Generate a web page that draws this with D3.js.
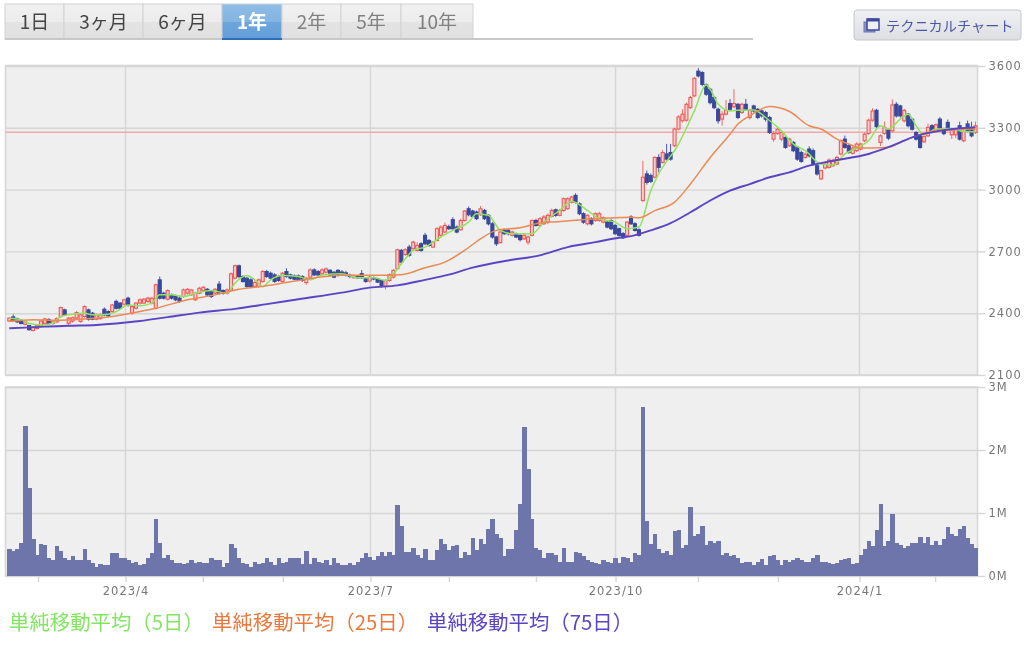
<!DOCTYPE html>
<html>
<head>
<meta charset="utf-8">
<style>
html, body { margin: 0; padding: 0; background: #fff; overflow: hidden; }
svg { display: block; filter: blur(0.35px); }
text { font-family: "Noto Sans CJK JP", "Noto Sans", sans-serif; }
.axis-label text, .axis-label { font-family: "DejaVu Sans", sans-serif; font-size: 11.5px; fill: #777; letter-spacing: 1px; }
</style>
<script src="https://cdn.jsdelivr.net/npm/d3@7"></script>
</head>
<body>
<div id="chart"></div>
<script>
// one row of ten sessions per line
var opens = [
  2362,2382,2372,2362,2346,2340,2316,2326,2338,2350,
  2368,2350,2358,2384,2416,2351,2362,2376,2360,2384,
  2416,2400,2371,2374,2419,2408,2408,2457,2449,2444,
  2473,2400,2424,2449,2449,2457,2449,2424,2562,2497,
  2468,2489,2484,2473,2481,2497,2489,2465,2497,2510,
  2516,2505,2497,2541,2510,2497,2513,2570,2630,2578,
  2570,2562,2530,2530,2554,2602,2594,2586,2578,2554,
  2602,2586,2581,2581,2578,2549,2575,2610,2602,2591,
  2599,2608,2599,2608,2600,2596,2584,2572,2580,2592,
  2567,2556,2572,2567,2559,2530,2559,2575,2616,2705,
  2685,2721,2713,2705,2737,2778,2753,2721,2753,2778,
  2794,2820,2854,2818,2805,2850,2907,2896,2891,2878,
  2899,2875,2834,2770,2742,2802,2802,2778,2786,2778,
  2761,2745,2778,2850,2826,2834,2842,2870,2902,2875,
  2899,2907,2939,2972,2931,2883,2834,2859,2850,2850,
  2842,2842,2850,2826,2810,2786,2778,2867,2834,2805,
  2947,3076,3068,3060,3156,3132,3173,3180,3213,3294,
  3334,3337,3398,3455,3575,3568,3508,3487,3447,3390,
  3342,3366,3418,3402,3414,3374,3414,3350,3406,3390,
  3382,3374,3350,3245,3272,3245,3253,3213,3229,3205,
  3180,3156,3197,3189,3116,3052,3105,3108,3116,3124,
  3173,3245,3213,3176,3189,3197,3237,3273,3337,3385,
  3229,3273,3289,3285,3414,3406,3334,3366,3342,3277,
  3261,3232,3261,3310,3285,3342,3293,3326,3266,3266,
  3310,3237,3319,3302,3277
];
var closes = [
  2376,2366,2358,2350,2358,2320,2332,2340,2362,2372,
  2351,2362,2374,2427,2392,2376,2378,2403,2392,2432,
  2371,2371,2392,2392,2392,2387,2440,2424,2424,2465,
  2440,2432,2449,2465,2468,2473,2473,2538,2473,2473,
  2510,2473,2465,2457,2513,2516,2513,2497,2521,2526,
  2489,2481,2516,2497,2497,2513,2591,2630,2578,2554,
  2530,2530,2549,2562,2602,2578,2570,2554,2559,2594,
  2578,2570,2565,2562,2559,2570,2610,2586,2586,2610,
  2615,2586,2575,2586,2590,2584,2578,2582,2572,2572,
  2554,2575,2566,2551,2530,2559,2587,2608,2708,2648,
  2708,2681,2745,2729,2705,2737,2729,2745,2810,2818,
  2826,2810,2810,2794,2850,2896,2878,2870,2859,2907,
  2859,2834,2770,2737,2794,2786,2786,2794,2770,2757,
  2778,2770,2850,2826,2859,2867,2875,2899,2875,2899,
  2956,2956,2964,2939,2883,2842,2875,2834,2883,2883,
  2863,2818,2810,2786,2778,2766,2842,2834,2802,2778,
  3060,3035,3040,3156,3108,3180,3148,3148,3294,3353,
  3366,3414,3447,3540,3552,3511,3463,3422,3398,3334,
  3366,3385,3390,3418,3350,3414,3390,3385,3382,3350,
  3358,3342,3277,3272,3293,3277,3205,3245,3189,3148,
  3137,3172,3164,3124,3076,3092,3124,3143,3140,3156,
  3237,3205,3181,3202,3221,3221,3269,3337,3382,3306,
  3261,3302,3250,3411,3358,3358,3385,3310,3293,3245,
  3205,3257,3302,3282,3315,3293,3272,3293,3289,3292,
  3245,3282,3285,3261,3310
];
var highs = [
  2380,2394,2378,2366,2362,2344,2336,2346,2368,2378,
  2376,2368,2380,2432,2422,2382,2384,2410,2398,2438,
  2422,2406,2398,2400,2428,2414,2446,2466,2454,2470,
  2480,2438,2454,2472,2474,2480,2480,2544,2578,2504,
  2516,2496,2490,2480,2520,2522,2518,2504,2528,2532,
  2522,2512,2522,2556,2516,2520,2598,2636,2636,2584,
  2576,2570,2556,2568,2610,2610,2602,2594,2586,2600,
  2618,2592,2588,2588,2584,2576,2618,2618,2610,2618,
  2622,2614,2604,2614,2610,2606,2592,2590,2586,2610,
  2572,2580,2578,2572,2564,2564,2594,2614,2714,2712,
  2716,2732,2752,2745,2745,2790,2760,2750,2818,2826,
  2840,2830,2866,2826,2858,2900,2918,2902,2898,2920,
  2906,2880,2842,2776,2800,2810,2808,2800,2792,2784,
  2786,2778,2856,2858,2866,2876,2884,2908,2908,2906,
  2962,2962,2970,2982,2938,2890,2880,2866,2890,2892,
  2870,2848,2856,2832,2816,2794,2848,2876,2842,2812,
  3140,3092,3078,3162,3172,3192,3222,3222,3300,3360,
  3390,3422,3455,3546,3590,3575,3515,3494,3454,3398,
  3382,3435,3440,3487,3420,3422,3440,3392,3412,3396,
  3388,3382,3358,3285,3300,3285,3260,3252,3236,3212,
  3190,3180,3210,3200,3122,3098,3136,3152,3150,3165,
  3244,3262,3220,3210,3230,3228,3276,3344,3395,3392,
  3268,3330,3296,3438,3425,3412,3392,3372,3348,3284,
  3268,3264,3320,3318,3322,3352,3300,3340,3296,3298,
  3330,3290,3335,3330,3330
];
var lows = [
  2358,2360,2352,2346,2340,2315,2312,2320,2332,2345,
  2345,2344,2352,2378,2386,2340,2354,2370,2354,2378,
  2364,2366,2366,2368,2386,2380,2402,2418,2418,2438,
  2432,2392,2418,2442,2444,2450,2442,2418,2466,2466,
  2462,2466,2458,2450,2475,2490,2484,2460,2492,2504,
  2484,2474,2490,2490,2490,2490,2506,2564,2570,2548,
  2524,2524,2524,2524,2548,2572,2564,2548,2552,2548,
  2572,2564,2560,2556,2552,2538,2568,2580,2580,2586,
  2592,2580,2570,2578,2582,2578,2570,2568,2566,2566,
  2548,2550,2560,2546,2524,2515,2552,2568,2610,2638,
  2678,2674,2708,2700,2698,2730,2722,2716,2748,2772,
  2790,2804,2802,2788,2800,2845,2870,2864,2852,2872,
  2852,2826,2762,2726,2738,2780,2778,2772,2764,2748,
  2755,2732,2772,2820,2820,2828,2832,2864,2868,2870,
  2892,2902,2932,2932,2876,2834,2826,2826,2844,2844,
  2836,2812,2804,2780,2772,2760,2772,2828,2796,2772,
  2940,3024,3032,3054,3084,3126,3140,3140,3206,3288,
  3326,3330,3392,3448,3544,3502,3455,3414,3390,3320,
  3310,3360,3382,3395,3342,3368,3382,3340,3374,3342,
  3350,3330,3270,3232,3266,3235,3198,3206,3182,3140,
  3130,3150,3156,3116,3068,3046,3098,3102,3110,3118,
  3166,3198,3174,3170,3182,3190,3230,3266,3330,3298,
  3212,3266,3240,3278,3350,3350,3326,3302,3286,3238,
  3198,3226,3255,3274,3278,3286,3264,3286,3246,3250,
  3238,3230,3278,3254,3270
];
// volume in millions of shares
var volumes = [
  .43,.39,.43,.53,2.38,1.40,.58,.34,.51,.49,
  .29,.25,.47,.40,.29,.25,.32,.25,.25,.43,
  .25,.21,.14,.19,.17,.17,.36,.36,.28,.28,
  .25,.21,.23,.17,.19,.28,.36,.91,.53,.29,
  .34,.26,.21,.21,.19,.21,.26,.21,.23,.21,
  .21,.28,.26,.25,.14,.21,.51,.45,.28,.21,
  .19,.14,.23,.19,.21,.29,.23,.17,.29,.21,
  .23,.28,.28,.29,.19,.40,.19,.28,.23,.21,
  .26,.17,.28,.21,.18,.18,.20,.17,.22,.29,
  .36,.30,.25,.32,.38,.32,.38,.34,1.12,.79,
  .38,.38,.45,.34,.29,.43,.25,.25,.41,.58,
  .51,.41,.47,.49,.29,.38,.34,.60,.41,.58,
  .51,.75,.90,.66,.60,.32,.43,.43,.73,1.14,
  2.36,1.70,.90,.45,.41,.29,.36,.36,.34,.23,
  .45,.23,.23,.38,.36,.32,.25,.23,.21,.19,
  .25,.23,.21,.28,.21,.30,.28,.23,.36,.34,
  2.68,.88,.51,.66,.43,.36,.40,.34,.71,.73,
  .45,.49,1.10,.64,.67,.80,.49,.55,.53,.55,
  .34,.36,.32,.34,.29,.21,.23,.23,.17,.23,
  .27,.17,.32,.34,.25,.17,.25,.23,.25,.29,
  .25,.23,.23,.28,.34,.23,.23,.21,.19,.21,
  .25,.27,.29,.19,.21,.34,.43,.55,.47,.73,
  1.14,.47,.55,.99,.53,.49,.45,.47,.53,.53,
  .62,.53,.62,.49,.55,.49,.58,.77,.67,.64,
  .75,.80,.60,.51,.45
];

// moving averages at the listed session numbers
var ma5Sessions = [0,3,5,8,11,13,16,19,21,25,27,30,33,36,38,41,44,47,51,55,57,60,62,64,66,69,73,76,79,84,88,92,95,97,100,102,105,109,112,116,118,121,124,127,132,135,139,142,146,149,153,156,159,162,164,169,173,176,177,179,182,184,188,191,195,198,201,205,208,211,214,217,220,222,225,227,229,231,234,238,241,244];
var ma5Values = [2376,2368,2351,2343,2351,2384,2395,2400,2392,2395,2408,2440,2436,2449,2489,2489,2481,2497,2510,2497,2546,2583,2562,2529,2562,2583,2578,2562,2586,2592,2572,2572,2559,2592,2664,2705,2721,2770,2802,2842,2883,2875,2802,2786,2786,2842,2899,2944,2899,2858,2842,2810,2818,2995,3076,3221,3382,3508,3487,3415,3382,3385,3387,3350,3285,3221,3189,3124,3119,3173,3202,3237,3310,3294,3342,3366,3310,3266,3294,3297,3282,3281];
var ma25Sessions = [0,6,12,19,26,33,37,45,52,58,65,73,84,92,99,105,110,115,119,123,129,134,141,148,153,157,159,163,168,172,177,182,184,187,192,197,202,205,209,212,215,218,222,225,229,235,244];
var ma25Values = [2360,2368,2365,2372,2384,2408,2424,2465,2489,2516,2533,2559,2584,2584,2587,2621,2648,2705,2761,2802,2815,2838,2847,2858,2863,2866,2863,2898,2939,3027,3156,3269,3318,3358,3403,3379,3310,3294,3245,3221,3202,3202,3205,3229,3261,3289,3294];
var ma75Sessions = [0,4,9,15,22,27,33,40,48,57,65,73,84,91,98,105,111,117,126,134,141,148,154,157,162,167,172,177,182,187,192,197,202,208,217,223,229,235,240,244];
var ma75Values = [2327,2330,2335,2339,2343,2350,2362,2381,2403,2421,2444,2468,2500,2524,2535,2562,2587,2621,2656,2681,2721,2745,2766,2774,2802,2837,2890,2947,2995,3027,3060,3084,3116,3140,3173,3213,3261,3285,3298,3302];

var priceTicks = [2100, 2400, 2700, 3000, 3300, 3600];
var volumeTicks = [0, 1, 2, 3];
var lastClose = 3278;
var monthTicks = [7.75, 29.85, 49.4, 69.6, 91.7, 111.5, 133.5, 153.6, 174.4, 194.6, 215.2, 234.3];
var quarterTicks = [29.85, 91.7, 153.6, 215.2];
var quarterLabels = ["2023/4", "2023/7", "2023/10", "2024/1"];
var periods = ["1日", "3ヶ月", "6ヶ月", "1年", "2年", "5年", "10年"];
var periodEdges = [5, 64, 143, 222, 282, 341, 401, 473];
var maLabels = ["単純移動平均（5日）", "単純移動平均（25日）", "単純移動平均（75日）"];
var maColors = ["#84e564", "#e97a3f", "#5b45c4"];

var margin = {top: 66, bottom: 576, left: 5.5, right: 977.5};
var gridColor = "#d6d6d6";

var svg = d3.select("#chart").append("svg")
    .attr("width", 1024)
    .attr("height", 655);

var defs = svg.append("defs");
function gradient(id, stops) {
  var g = defs.append("linearGradient").attr("id", id).attr("x1", 0).attr("x2", 0).attr("y1", 0).attr("y2", 1);
  stops.forEach(function(s) {
    g.append("stop").attr("offset", s[0]).attr("stop-color", s[1]);
  });
}
gradient("tab", [[0, "#f1f1f1"], [.5, "#ececec"], [.52, "#e3e3e3"], [1, "#e1e1e1"]]);
gradient("tabOn", [[0, "#8dbce6"], [.5, "#84b4e2"], [.52, "#6da4dc"], [1, "#659ed9"]]);
gradient("btn", [[0, "#f0f1f3"], [1, "#dcdee2"]]);

var x = d3.scaleLinear().domain([0, 245]).range([7.3, 977.5]);
var yPrice = d3.scaleLinear().domain([2100, 3600]).range([375, 66]);
var yVolume = d3.scaleLinear().domain([0, 3]).range([576, 387]);

// period tabs
var tabs = svg.append("g");
tabs.selectAll("rect").data(periods).enter().append("rect")
    .attr("x", function(d, i) { return periodEdges[i]; })
    .attr("y", 4)
    .attr("width", function(d, i) { return periodEdges[i + 1] - periodEdges[i]; })
    .attr("height", 35)
    .attr("fill", function(d) { return d === "1年" ? "url(#tabOn)" : "url(#tab)"; })
    .attr("stroke", "#d2d2d2");
tabs.append("line").attr("x1", 5).attr("x2", 753).attr("y1", 39).attr("y2", 39)
    .attr("stroke", "#c8c8c8").attr("stroke-width", 2);
tabs.append("line").attr("x1", 222).attr("x2", 282).attr("y1", 39).attr("y2", 39)
    .attr("stroke", "#2f6fb5").attr("stroke-width", 2);
tabs.selectAll("text").data(periods).enter().append("text")
    .attr("x", function(d, i) { return (periodEdges[i] + periodEdges[i + 1]) / 2; })
    .attr("y", 29)
    .attr("text-anchor", "middle")
    .attr("font-size", 19)
    .attr("fill", function(d, i) { return d === "1年" ? "#fff" : (i > 3 ? "#808080" : "#444"); })
    .attr("font-weight", function(d) { return d === "1年" ? 700 : 400; })
    .text(function(d) { return d; });

// technical chart button
var btn = svg.append("g");
btn.append("rect").attr("x", 854).attr("y", 10).attr("width", 167).attr("height", 30).attr("rx", 3)
    .attr("fill", "url(#btn)").attr("stroke", "#c4c6ca");
btn.append("rect").attr("x", 864).attr("y", 22).attr("width", 11).attr("height", 10)
    .attr("fill", "#8a93c4").attr("stroke", "#6a75b4");
btn.append("rect").attr("x", 867).attr("y", 19).attr("width", 12).attr("height", 11)
    .attr("fill", "#eef0f4").attr("stroke", "#3d4a9e").attr("stroke-width", 1.5);
btn.append("rect").attr("x", 867).attr("y", 18.5).attr("width", 12).attr("height", 3).attr("fill", "#3d4a9e");
btn.append("text").attr("x", 886).attr("y", 31).attr("font-size", 14.2).attr("fill", "#4a57a8")
    .text("テクニカルチャート");

// panels
function panel(top, bottom) {
  svg.append("rect")
      .attr("x", margin.left).attr("y", top)
      .attr("width", margin.right - margin.left).attr("height", bottom - top)
      .attr("fill", "#efefef").attr("stroke", gridColor).attr("stroke-width", 1.6);
}
panel(65.5, 375);
panel(387, 576);

// horizontal grid and right hand axes
function rightAxis(scale, ticks, fmt) {
  var g = svg.append("g")
      .attr("class", "axis-label")
      .attr("transform", "translate(" + margin.right + ",0)")
      .call(d3.axisRight(scale).tickValues(ticks).tickSize(8).tickPadding(3).tickFormat(fmt));
  g.select(".domain").remove();
  g.selectAll(".tick line").attr("stroke", gridColor).attr("stroke-width", 1.4);
  g.selectAll(".tick").append("line")
      .attr("x1", margin.left - margin.right).attr("x2", 0)
      .attr("stroke", gridColor).attr("stroke-width", 1.4);
  return g;
}
rightAxis(yPrice, priceTicks, function(d) { return d; });
rightAxis(yVolume, volumeTicks, function(d) { return d + "M"; });

// vertical grid
[[66, 375], [387, 576]].forEach(function(r) {
  svg.append("g").selectAll("line").data(quarterTicks).enter().append("line")
      .attr("x1", x).attr("x2", x)
      .attr("y1", r[0]).attr("y2", r[1])
      .attr("stroke", gridColor).attr("stroke-width", 1.5);
});

// bottom axis with month ticks
var xAxis = svg.append("g")
    .attr("class", "axis-label")
    .attr("transform", "translate(0,576)")
    .call(d3.axisBottom(x).tickValues(monthTicks).tickSize(6).tickPadding(5).tickFormat(function(d) {
      var q = quarterTicks.indexOf(d);
      return q < 0 ? "" : quarterLabels[q];
    }));
xAxis.select(".domain").remove();
xAxis.selectAll(".tick line").attr("stroke", gridColor).attr("stroke-width", 1.4);

// last close line
svg.append("line")
    .attr("x1", margin.left).attr("x2", margin.right)
    .attr("y1", yPrice(lastClose)).attr("y2", yPrice(lastClose))
    .attr("stroke", "#f6aaaa").attr("stroke-width", 1.5);

// volume
svg.append("g").attr("shape-rendering", "crispEdges").selectAll("rect").data(volumes).enter().append("rect")
    .attr("x", function(d, i) { return x(i); })
    .attr("y", function(d) { return yVolume(d); })
    .attr("width", x(1) - x(0) + 0.5)
    .attr("height", function(d) { return yVolume(0) - yVolume(d); })
    .attr("fill", "#6d75aa");

// candles
var candles = svg.append("g").selectAll("g").data(opens).enter().append("g");
candles.append("line")
    .attr("x1", function(d, i) { return x(i + .5); })
    .attr("x2", function(d, i) { return x(i + .5); })
    .attr("y1", function(d, i) { return yPrice(highs[i]); })
    .attr("y2", function(d, i) { return yPrice(lows[i]); })
    .attr("stroke", function(d, i) { return closes[i] >= d ? "#f26a68" : "#4a5aa8"; })
    .attr("stroke-width", 1);
candles.append("rect")
    .attr("x", function(d, i) { return x(i + .5) - 1.5; })
    .attr("y", function(d, i) { return yPrice(Math.max(d, closes[i])); })
    .attr("width", 3)
    .attr("height", function(d, i) { return Math.max(1, Math.abs(yPrice(d) - yPrice(closes[i]))); })
    .attr("fill", function(d, i) { return closes[i] >= d ? "#f7cfcf" : "#38489c"; })
    .attr("stroke", function(d, i) { return closes[i] >= d ? "#ee5a58" : "#38489c"; })
    .attr("stroke-width", 1.1);

// moving averages
function maLine(sessions, values, color, width) {
  var line = d3.line()
      .x(function(d) { return x(d + .5); })
      .y(function(d, i) { return yPrice(values[i]); })
      .curve(d3.curveMonotoneX);
  svg.append("path")
      .attr("d", line(sessions))
      .attr("fill", "none")
      .attr("stroke", color)
      .attr("stroke-width", width);
}
maLine(ma5Sessions, ma5Values, "#8fe35f", 1.5);
maLine(ma25Sessions, ma25Values, "#ea8a55", 1.5);
maLine(ma75Sessions, ma75Values, "#5b45c4", 1.9);

// legend
var legendX = [9, 212, 427];
svg.append("g").selectAll("text").data(maLabels).enter().append("text")
    .attr("x", function(d, i) { return legendX[i]; })
    .attr("y", 630)
    .attr("font-size", 20.4)
    .attr("fill", function(d, i) { return maColors[i]; })
    .text(function(d) { return d; });
</script>
</body>
</html>
